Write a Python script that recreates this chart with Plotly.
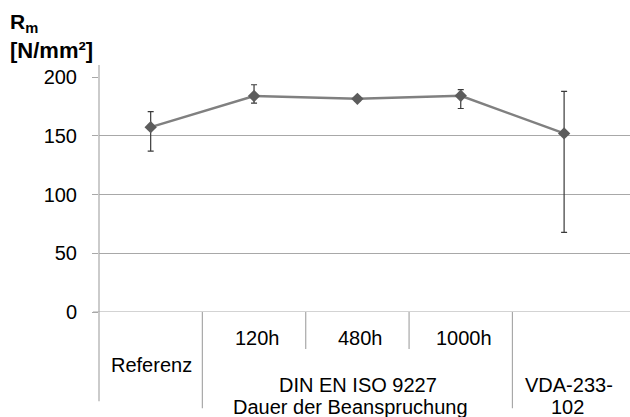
import plotly.graph_objects as go

categories = ["Referenz", "120h", "480h", "1000h", "VDA-233-102"]
values = [157.3, 183.8, 181.4, 184.0, 152.0]
err_plus = [13.3, 9.6, 2.0, 5.2, 35.7]
err_minus = [20.3, 6.0, 2.0, 10.8, 84.3]
group_label = "DIN EN ISO 9227"
axis_title = "Dauer der Beanspruchung"
vda_lines = ["VDA-233-", "102"]
y_ticks = [0, 50, 100, 150, 200]

FONT = "Liberation Sans, Arial, sans-serif"
W, H = 630, 417
L, R, T, B = 99.3, 0, 77.3, 105.3
cat_w = 103.3
x_max = -0.5 + (W - L - R) / cat_w
GRID = "#a8a8a8"

fig = go.Figure()
fig.add_trace(go.Scatter(
    x=list(range(len(categories))), y=values,
    mode="lines+markers",
    line=dict(color="#808080", width=2.5),
    marker=dict(symbol="diamond", size=9.5, color="#5c5c5c"),
    error_y=dict(type="data", symmetric=False, array=err_plus, arrayminus=err_minus,
                 color="#3a3a3a", thickness=1.2, width=3),
    showlegend=False,
    hoverinfo="skip",
))

fig.update_layout(
    width=W, height=H,
    margin=dict(l=L, r=R, t=T, b=B, pad=0),
    paper_bgcolor="white", plot_bgcolor="white",
    font=dict(family=FONT, size=20, color="#000000"),
    xaxis=dict(range=[-0.5, x_max], showgrid=False, zeroline=False, showticklabels=False,
               showline=False, ticks=""),
    yaxis=dict(range=[0, 200], tickvals=y_ticks, showgrid=True, gridcolor=GRID, gridwidth=1,
               zeroline=False, showline=False, ticks="outside", ticklen=6, tickcolor=GRID,
               tickfont=dict(family=FONT, size=20, color="#000000"), ticklabelstandoff=11),
)

ph = H - T - B
pw = W - L - R
def py(px):
    return -px / ph

shapes = []
shapes.append(dict(type="line", xref="paper", yref="paper", x0=0, x1=0, y0=py(89), y1=1 + 12 / ph,
                   line=dict(color=GRID, width=1.2)))
shapes.append(dict(type="line", xref="paper", yref="y", x0=-6 / pw, x1=1, y0=0, y1=0,
                   line=dict(color=GRID, width=1.2)))
for xs, depth in [(0.5, 96), (1.5, 37), (2.5, 37), (3.5, 96)]:
    shapes.append(dict(type="line", xref="x", yref="paper", x0=xs, x1=xs, y0=0, y1=py(depth),
                       line=dict(color=GRID, width=1.2)))
fig.update_layout(shapes=shapes)

ann = []
def add_text(x, y_px, text, xshift=0):
    ann.append(dict(x=x, y=py(y_px), xref="x", yref="paper", text=text, showarrow=False,
                    xanchor="center", yanchor="middle", xshift=xshift,
                    font=dict(family=FONT, size=20, color="#000000")))

add_text(0, 52.6, categories[0], xshift=1)
for i in (1, 2, 3):
    add_text(i, 26, categories[i], xshift=3)
add_text(2, 72.7, group_label, xshift=1)
add_text(2, 95, axis_title, xshift=-7)
add_text(4, 72.7, vda_lines[0], xshift=5)
add_text(4, 95, vda_lines[1], xshift=3)

ann.append(dict(x=-(L - 8) / pw, y=1 + (T - 8) / ph, xref="paper", yref="paper",
                xanchor="left", yanchor="top", text="<b>R<sub>m</sub></b>", showarrow=False,
                font=dict(family=FONT, size=21, color="#000000")))
ann.append(dict(x=-(L - 8) / pw, y=1 + (T - 36) / ph, xref="paper", yref="paper",
                xanchor="left", yanchor="top", text="<b>[N/mm²]</b>", showarrow=False,
                font=dict(family=FONT, size=22, color="#000000")))
fig.update_layout(annotations=ann)

fig.write_html("out.html", config={"displayModeBar": False},
               post_script="document.body.style.margin='0';document.body.style.padding='0';")
